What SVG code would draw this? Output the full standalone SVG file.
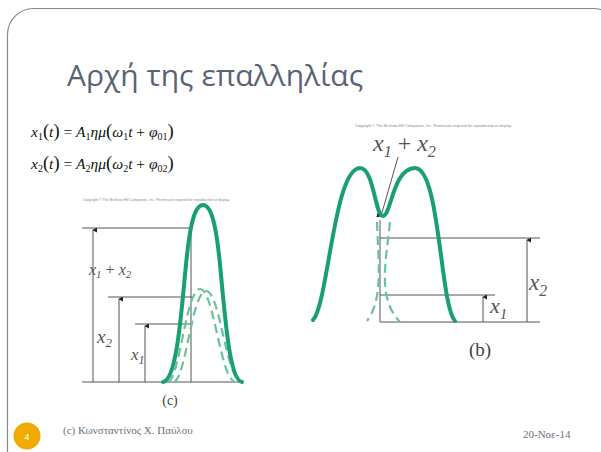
<svg xmlns="http://www.w3.org/2000/svg" width="601" height="452" viewBox="0 0 601 452">
<defs>
<style>
.frame{fill:none;stroke:#8a8a8a;stroke-width:1.2}
.title{font-family:"Open Sans","Liberation Sans",sans-serif;font-size:30px;fill:#5a6275}
.eq{font-family:"Liberation Serif",serif;font-size:15.5px;fill:#111}
.lbl{font-family:"Liberation Serif",serif;font-style:italic;fill:#555}
.cap{font-family:"Liberation Serif",serif;fill:#444}
.copy{font-family:"Liberation Sans",sans-serif;font-size:3px;fill:#888}
.ln{stroke:#555;stroke-width:1;fill:none}
.solid{fill:none;stroke:#19a070;stroke-width:4;stroke-linecap:round}
.dash{fill:none;stroke:#6cc29a;stroke-width:2.2;stroke-dasharray:9,5}
.foot{font-family:"Liberation Serif","DejaVu Serif",serif;font-size:11px;fill:#6b6f80}
</style>
<marker id="ah" viewBox="0 0 6 6" refX="3" refY="1" markerWidth="5" markerHeight="5" orient="auto-start-reverse" markerUnits="userSpaceOnUse">
<path d="M0,6 L3,0 L6,6 Z" fill="#222"/>
</marker>
</defs>
<rect width="601" height="452" fill="#fff"/>
<rect class="frame" x="7.5" y="8.5" width="612" height="470" rx="26"/>
<g id="title"><text class="title" x="67" y="86">Αρχή της επαλληλίας</text></g>
<g id="eq1"><text class="eq" x="31" y="137"><tspan font-style="italic">x</tspan><tspan font-size="10" dy="3">1</tspan><tspan dy="-3" font-size="18.5">(</tspan><tspan font-style="italic">t</tspan><tspan font-size="18.5">)</tspan> = <tspan font-style="italic">A</tspan><tspan font-size="10" dy="3">1</tspan><tspan dy="-3" font-style="italic">ημ</tspan><tspan font-size="18.5">(</tspan><tspan font-style="italic">ω</tspan><tspan font-size="10" dy="3">1</tspan><tspan dy="-3" font-style="italic">t</tspan> + <tspan font-style="italic">φ</tspan><tspan font-size="10" dy="3">01</tspan><tspan dy="-3" font-size="18.5">)</tspan></text></g>
<g id="eq2"><text class="eq" x="31" y="169"><tspan font-style="italic">x</tspan><tspan font-size="10" dy="3">2</tspan><tspan dy="-3" font-size="18.5">(</tspan><tspan font-style="italic">t</tspan><tspan font-size="18.5">)</tspan> = <tspan font-style="italic">A</tspan><tspan font-size="10" dy="3">2</tspan><tspan dy="-3" font-style="italic">ημ</tspan><tspan font-size="18.5">(</tspan><tspan font-style="italic">ω</tspan><tspan font-size="10" dy="3">2</tspan><tspan dy="-3" font-style="italic">t</tspan> + <tspan font-style="italic">φ</tspan><tspan font-size="10" dy="3">02</tspan><tspan dy="-3" font-size="18.5">)</tspan></text></g>

<g id="figc">
<text class="copy" x="83" y="201" textLength="147" lengthAdjust="spacingAndGlyphs">Copyright © The McGraw-Hill Companies, Inc. Permission required for reproduction or display.</text>
<path class="ln" d="M82,228H192 M108,297H192 M135,324H192 M82,382H242 M191,228V382"/>
<path class="ln" d="M93,382V230" marker-end="url(#ah)"/>
<path class="ln" d="M119,382V299" marker-end="url(#ah)"/>
<path class="ln" d="M145,382V326" marker-end="url(#ah)"/>
<path class="dash" d="M168,382 C180,378 186,289 200,289 C214,289 220,378 235,382"/>
<path class="dash" d="M174,382 C186,378 192,291 206,291 C220,291 226,378 241,382"/>
<path class="solid" d="M163,382 C178,380 182,300 187,255 C191,218 196,205 203,205 C210,205 215,218 219,255 C224,300 228,380 242,382"/>
<text class="lbl" x="89" y="275" font-size="16">x<tspan font-size="11" dy="3">1</tspan><tspan dy="-3" font-style="normal"> + </tspan>x<tspan font-size="11" dy="3">2</tspan></text>
<text class="lbl" x="97" y="343" font-size="19">x<tspan font-size="13" dy="4">2</tspan></text>
<text class="lbl" x="131" y="360" font-size="17">x<tspan font-size="12" dy="4">1</tspan></text>
<text class="cap" x="170" y="405" font-size="14" text-anchor="middle">(c)</text>
</g>

<g id="figb">
<text class="copy" x="355" y="127" textLength="157" lengthAdjust="spacingAndGlyphs">Copyright © The McGraw-Hill Companies, Inc. Permission required for reproduction or display.</text>
<path class="ln" d="M380,238H540 M380,295H495 M380,322H540 M380,220V322"/>
<path class="ln" d="M527,322V240" marker-end="url(#ah)"/>
<path class="ln" d="M483,322V297" marker-end="url(#ah)"/>
<path class="ln" d="M398,157L381,216" marker-end="url(#ah)"/>
<path class="dash" d="M377,222 C378,260 384,298 367,321"/>
<path class="dash" d="M390,222 C386,262 377,298 400,322"/>
<path class="solid" d="M313,320 C328,305 334,168 360,168 C374,168 375,216 383,216 C391,216 393,168 415,168 C440,168 440,305 455,321"/>
<text class="lbl" x="373" y="151" font-size="24">x<tspan font-size="16" dy="6">1</tspan><tspan dy="-6" font-style="normal"> + </tspan>x<tspan font-size="16" dy="6">2</tspan></text>
<text class="lbl" x="529" y="290" font-size="23">x<tspan font-size="16" dy="6">2</tspan></text>
<text class="lbl" x="490" y="313" font-size="22">x<tspan font-size="15" dy="6">1</tspan></text>
<text class="cap" x="480" y="356" font-size="19" text-anchor="middle">(b)</text>
</g>

<g id="footer">
<circle cx="27" cy="436" r="13.5" fill="#f0aa00"/>
<text x="27" y="439.5" font-family="Liberation Sans,sans-serif" font-size="9" fill="#fff" text-anchor="middle">4</text>
<text class="foot" x="63" y="434">(c) Κωνσταντίνος Χ. Παύλου</text>
<text class="foot" x="523" y="438">20-Νοε-14</text>
</g>
</svg>
